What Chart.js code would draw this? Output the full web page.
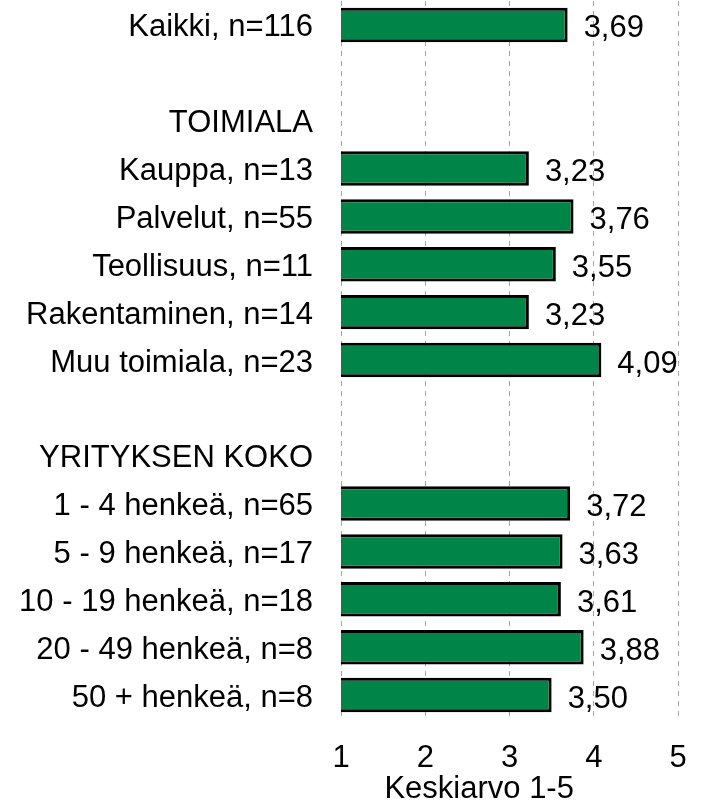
<!DOCTYPE html>
<html>
<head>
<meta charset="utf-8">
<script src="https://cdn.jsdelivr.net/npm/chart.js@4"></script>
<style>
  html, body { margin: 0; padding: 0; background: #fff; overflow: hidden; }
  #wrap { width: 707px; height: 800px; }
</style>
</head>
<body>
<div id="wrap"><canvas id="chart-keskiarvo"></canvas></div>
<script>
const labels = [
  "Kaikki, n=116", "",
  "TOIMIALA", "Kauppa, n=13", "Palvelut, n=55", "Teollisuus, n=11", "Rakentaminen, n=14", "Muu toimiala, n=23", "",
  "YRITYKSEN KOKO", "1 - 4 henkeä, n=65", "5 - 9 henkeä, n=17", "10 - 19 henkeä, n=18", "20 - 49 henkeä, n=8", "50 + henkeä, n=8"
];
const values = [
  3.69, null,
  null, 3.23, 3.76, 3.55, 3.23, 4.09, null,
  null, 3.72, 3.63, 3.61, 3.88, 3.50
];
const xTicks = [1, 2, 3, 4, 5];
const axisTitle = "Keskiarvo 1-5";

const font = "'Liberation Sans', Arial, sans-serif";

// arvot palkkien perään
const valueLabels = {
  id: "valueLabels",
  afterDatasetsDraw(chart) {
    const ctx = chart.ctx;
    const meta = chart.getDatasetMeta(0);
    ctx.save();
    ctx.font = "31px " + font;
    ctx.fillStyle = "#000";
    ctx.textAlign = "left";
    ctx.textBaseline = "middle";
    meta.data.forEach((bar, i) => {
      const v = values[i];
      if (v == null) return;
      ctx.fillText(v.toFixed(2).replace(".", ","), bar.x + 16, bar.y + 4);
    });
    ctx.restore();
  },
};

// akselin otsikko
const axisTitlePlugin = {
  id: "axisTitle",
  afterDraw(chart) {
    const ctx = chart.ctx;
    const area = chart.chartArea;
    ctx.save();
    ctx.font = "31px " + font;
    ctx.fillStyle = "#000";
    ctx.textAlign = "center";
    ctx.textBaseline = "middle";
    ctx.fillText(axisTitle, area.left + (area.right - area.left) * 0.41, 789);
    ctx.restore();
  },
};

new Chart(document.getElementById("chart-keskiarvo"), {
  type: "bar",
  data: {
    labels,
    datasets: [
      {
        data: values,
        backgroundColor: "#008448",
        borderColor: "#000",
        borderWidth: 3,
        borderSkipped: false,
        barPercentage: 0.72,
        categoryPercentage: 1,
      },
    ],
  },
  options: {
    indexAxis: "y",
    responsive: true,
    maintainAspectRatio: false,
    animation: false,
    layout: { padding: { top: 1, right: 29, left: 0, bottom: 0 } },
    plugins: {
      legend: { display: false },
      tooltip: { enabled: false },
    },
    scales: {
      x: {
        min: 1,
        max: 5,
        afterBuildTicks: (scale) => {
          scale.ticks = xTicks.map((v) => ({ value: v }));
        },
        afterFit: (scale) => {
          scale.height = 81;
          scale.paddingLeft = 0;
          scale.paddingRight = 0;
        },
        border: { display: false, dash: [5, 5] },
        grid: { color: "#a6a6a6", lineWidth: 1, drawTicks: false },
        ticks: {
          padding: 21,
          color: "#000",
          font: { family: font, size: 31 },
          maxRotation: 0,
        },
      },
      y: {
        afterFit: (scale) => {
          scale.width = 341;
          scale.paddingTop = 0;
          scale.paddingBottom = 0;
        },
        border: { display: false },
        grid: { display: false, drawTicks: false },
        ticks: {
          padding: 28,
          labelOffset: 3,
          color: "#000",
          font: { family: font, size: 31 },
          autoSkip: false,
        },
      },
    },
  },
  plugins: [valueLabels, axisTitlePlugin],
});
</script>
</body>
</html>
